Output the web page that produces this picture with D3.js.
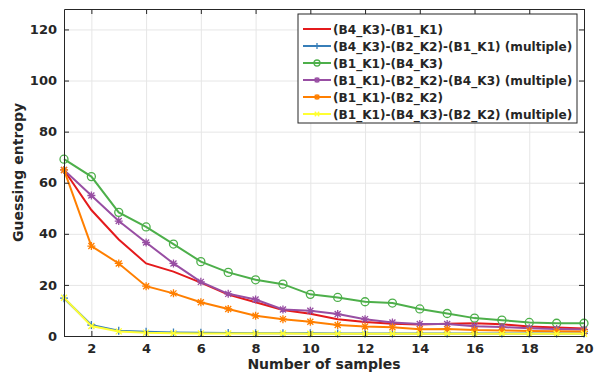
<!DOCTYPE html>
<html>
<head>
<meta charset="utf-8">
<script src="https://cdn.jsdelivr.net/npm/d3@7"></script>
<style>
  body { margin: 0; background: #fff; }
  text { font-family: "DejaVu Sans", sans-serif; font-weight: bold; fill: #262626; }
</style>
</head>
<body>
<svg id="chart" width="597" height="377"></svg>
<script>
var samples = d3.range(1, 21);
var yTicks = [0, 20, 40, 60, 80, 100, 120];
var xTicks = [2, 4, 6, 8, 10, 12, 14, 16, 18, 20];

var b4b1 = [65, 49.3, 37.8, 28.4, 25.2, 20.9, 16.2, 13.2, 10.2, 8.7, 6.6, 5.5, 4.8, 4.5, 4.8, 5, 4.6, 3.7, 3.3, 2.9];
var b4b2b1 = [14.8, 4.3, 2.1, 1.7, 1.4, 1.3, 1.2, 1.1, 1.1, 1.05, 1, 1, 1, 1, 1, 1, 1, 1, 1, 1];
var b1b4 = [69.2, 62.4, 48.4, 42.7, 36, 29.1, 24.9, 22, 20.3, 16.3, 15.1, 13.4, 12.9, 10.6, 8.8, 7, 6.2, 5.3, 5, 5];
var b1b2b4 = [65, 55, 45, 36.6, 28.4, 21.2, 16.5, 14.3, 10.4, 9.9, 8.6, 6.6, 5.3, 4.7, 4.7, 3.8, 3.5, 3, 2.7, 2.5];
var b1b2 = [65, 35.2, 28.4, 19.5, 16.7, 13.2, 10.6, 7.9, 6.6, 5.6, 4.3, 3.7, 3.4, 2.6, 2.7, 2.3, 2.2, 2.0, 1.9, 1.8];
var b1b4b2 = [15, 3.9, 1.8, 1.3, 1.1, 1, 1, 0.95, 0.95, 0.9, 0.9, 0.9, 0.9, 0.9, 0.9, 0.9, 0.9, 0.9, 0.9, 0.9];

var series = [
  {name: "(B4_K3)-(B1_K1)", values: b4b1, color: "#e41a1c", marker: "none"},
  {name: "(B4_K3)-(B2_K2)-(B1_K1) (multiple)", values: b4b2b1, color: "#377eb8", marker: "plus"},
  {name: "(B1_K1)-(B4_K3)", values: b1b4, color: "#4daf4a", marker: "circle"},
  {name: "(B1_K1)-(B2_K2)-(B4_K3) (multiple)", values: b1b2b4, color: "#984ea3", marker: "star"},
  {name: "(B1_K1)-(B2_K2)", values: b1b2, color: "#ff7f00", marker: "star"},
  {name: "(B1_K1)-(B4_K3)-(B2_K2) (multiple)", values: b1b4b2, color: "#ffff33", marker: "cross"}
];

var pLeft = 64, pRight = 584, pTop = 9, pBottom = 336;
var svg = d3.select("#chart");

var x = d3.scaleLinear().domain([1, 20]).range([pLeft, pRight]);
var y = d3.scaleLinear().domain([0, 128]).range([pBottom, pTop]);

// grid
svg.append("g")
    .attr("transform", "translate(0," + pBottom + ")")
    .call(d3.axisBottom(x).tickValues(xTicks).tickSize(-(pBottom - pTop)).tickFormat(""))
    .call(function(g) { g.select(".domain").remove(); })
    .selectAll("line").attr("stroke", "#e6e6e6");
svg.append("g")
    .attr("transform", "translate(" + pLeft + ",0)")
    .call(d3.axisLeft(y).tickValues(yTicks).tickSize(-(pRight - pLeft)).tickFormat(""))
    .call(function(g) { g.select(".domain").remove(); })
    .selectAll("line").attr("stroke", "#e6e6e6");

// lines
function markerPath(type, s) {
  if (type == "plus") return "M" + (-s) + ",0H" + s + "M0," + (-s) + "V" + s;
  if (type == "cross") { var c = s * 0.75; return "M" + (-c) + "," + (-c) + "L" + c + "," + c + "M" + (-c) + "," + c + "L" + c + "," + (-c); }
  if (type == "star") { var d = s * 0.75; return "M" + (-s) + ",0H" + s + "M0," + (-s) + "V" + s + "M" + (-d) + "," + (-d) + "L" + d + "," + d + "M" + (-d) + "," + d + "L" + d + "," + (-d); }
  if (type == "circle") return "M" + s + ",0A" + s + "," + s + " 0 1,1 " + (-s) + ",0A" + s + "," + s + " 0 1,1 " + s + ",0";
  return "";
}

var line = d3.line().x(function(d, i) { return x(samples[i]); }).y(function(d) { return y(d); });

var plot = svg.append("g");
series.forEach(function(s) {
  var g = plot.append("g");
  g.append("path").datum(s.values)
      .attr("d", line)
      .attr("fill", "none")
      .attr("stroke", s.color)
      .attr("stroke-width", 2);
  if (s.marker != "none") {
    g.selectAll(".m").data(s.values).enter().append("path")
        .attr("transform", function(d, i) { return "translate(" + x(samples[i]) + "," + y(d) + ")"; })
        .attr("d", markerPath(s.marker, 4))
        .attr("fill", "none")
        .attr("stroke", s.color)
        .attr("stroke-width", 1.3);
  }
});

// axes with box
var axisColor = "#262626";
var xa = svg.append("g").attr("transform", "translate(0," + pBottom + ")")
    .call(d3.axisBottom(x).tickValues(xTicks).tickSizeInner(-5).tickSizeOuter(0).tickPadding(8));
var xt = svg.append("g").attr("transform", "translate(0," + pTop + ")")
    .call(d3.axisTop(x).tickValues(xTicks).tickSizeInner(-5).tickSizeOuter(0).tickFormat(""));
var ya = svg.append("g").attr("transform", "translate(" + pLeft + ",0)")
    .call(d3.axisLeft(y).tickValues(yTicks).tickSizeInner(-5).tickSizeOuter(0).tickPadding(7));
var yr = svg.append("g").attr("transform", "translate(" + pRight + ",0)")
    .call(d3.axisRight(y).tickValues(yTicks).tickSizeInner(-5).tickSizeOuter(0).tickFormat(""));
[xa, xt, ya, yr].forEach(function(a) {
  a.selectAll("path, line").attr("stroke", axisColor);
  a.selectAll("text").attr("font-size", 13).attr("font-family", "DejaVu Sans").attr("font-weight", "bold").attr("fill", axisColor);
});

svg.append("text")
    .attr("x", (pLeft + pRight) / 2).attr("y", 369)
    .attr("text-anchor", "middle").attr("font-size", 14)
    .text("Number of samples");
svg.append("text")
    .attr("transform", "translate(23," + ((pTop + pBottom) / 2) + ") rotate(-90)")
    .attr("text-anchor", "middle").attr("font-size", 14)
    .text("Guessing entropy");

// legend
var leg = svg.append("g").attr("transform", "translate(298,14)");
leg.append("rect").attr("width", 279).attr("height", 109)
    .attr("fill", "#fff").attr("stroke", axisColor).attr("stroke-width", 1);
series.forEach(function(s, i) {
  var ly = 15 + i * 17;
  leg.append("line").attr("x1", 5).attr("x2", 33).attr("y1", ly).attr("y2", ly)
      .attr("stroke", s.color).attr("stroke-width", 2);
  if (s.marker != "none") {
    leg.append("path").attr("transform", "translate(19," + ly + ")")
        .attr("d", markerPath(s.marker, 3))
        .attr("fill", "none").attr("stroke", s.color).attr("stroke-width", 1.3);
  }
  leg.append("text").attr("x", 35).attr("y", ly + 4.5)
      .attr("font-size", 12.1).text(s.name);
});
</script>
</body>
</html>
